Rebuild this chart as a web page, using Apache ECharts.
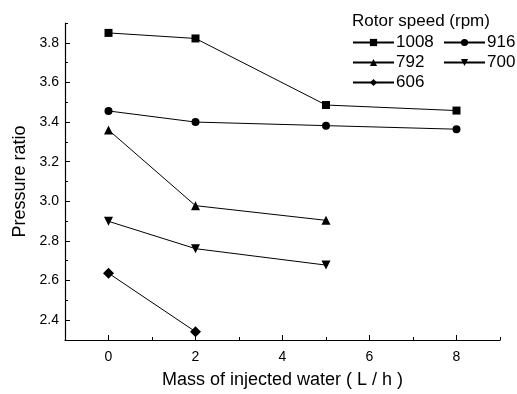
<!DOCTYPE html>
<html>
<head>
<meta charset="utf-8">
<script src="https://cdn.jsdelivr.net/npm/echarts@6/dist/echarts.min.js"></script>
<style>
  html, body { margin: 0; padding: 0; background: #fff; }
  #chart { width: 517px; height: 394px; }
</style>
</head>
<body>
<div id="chart"></div>
<script>
// injected water (L/h)
const xValues = [0, 2, 5, 8];
const rpm1008 = [3.85, 3.822, 3.486, 3.458];
const rpm916 = [3.456, 3.40, 3.382, 3.364];
const rpm792 = [3.36, 2.978, 2.904];
const rpm700 = [2.899, 2.761, 2.678];
const rpm606 = [2.637, 2.342];

const xMajorTicks = [0, 2, 4, 6, 8];
const xMinorTicks = [1, 3, 5, 7, 9];
const yMajorTicks = [2.4, 2.6, 2.8, 3.0, 3.2, 3.4, 3.6, 3.8];
const yMinorTicks = [2.5, 2.7, 2.9, 3.1, 3.3, 3.5, 3.7, 3.9];

const FONT = 'Liberation Sans, Arial, sans-serif';

function pairs(ys) {
  return ys.map((y, i) => [xValues[i], y]);
}

const seriesDefs = [
  { name: '1008', data: rpm1008, symbol: 'rect', size: 8, rotate: 0 },
  { name: '916', data: rpm916, symbol: 'circle', size: 8, rotate: 0 },
  { name: '792', data: rpm792, symbol: 'triangle', size: 9, rotate: 0 },
  { name: '700', data: rpm700, symbol: 'triangle', size: 9, rotate: 180 },
  { name: '606', data: rpm606, symbol: 'diamond', size: 11, rotate: 0 },
];

const legendPos = [
  { left: 352, top: 34 },
  { left: 443, top: 34 },
  { left: 352, top: 54 },
  { left: 443, top: 54 },
  { left: 352, top: 74 },
];

const chart = echarts.init(document.getElementById('chart'), null, { renderer: 'canvas' });

chart.setOption({
  animation: false,
  backgroundColor: '#fff',
  textStyle: { fontFamily: FONT },
  title: {
    text: 'Rotor speed (rpm)',
    left: 352,
    top: 13,
    padding: 0,
    textStyle: { fontFamily: FONT, fontSize: 17, fontWeight: 'normal', color: '#000' },
  },
  legend: seriesDefs.map((s, i) => ({
    data: [s.name],
    left: legendPos[i].left,
    top: legendPos[i].top,
    padding: 0,
    itemWidth: 41,
    itemHeight: 9,
    itemGap: 2,
    textStyle: { fontFamily: FONT, fontSize: 17, color: '#000', padding: [0, 0, 0, -3] },
  })),
  grid: { left: 65, right: 17, top: 23, bottom: 48, containLabel: false },
  xAxis: [
    {
      type: 'value',
      min: -1,
      max: 9,
      name: 'Mass of injected water ( L / h )',
      nameLocation: 'middle',
      nameGap: 31,
      nameTextStyle: { fontFamily: FONT, fontSize: 18, color: '#000' },
      axisLine: { onZero: false, lineStyle: { color: '#000', width: 1.2 } },
      splitLine: { show: false },
      axisTick: { inside: true, length: 5, customValues: xMajorTicks, lineStyle: { color: '#000' } },
      axisLabel: { customValues: xMajorTicks, color: '#000', fontSize: 14, fontFamily: FONT, margin: 10 },
    },
    {
      type: 'value',
      min: -1,
      max: 9,
      position: 'bottom',
      axisLine: { show: false, onZero: false },
      splitLine: { show: false },
      axisTick: { inside: true, length: 3, customValues: xMinorTicks, lineStyle: { color: '#000' } },
      axisLabel: { show: false },
    },
  ],
  yAxis: [
    {
      type: 'value',
      min: 2.3,
      max: 3.9,
      interval: 0.1,
      name: 'Pressure ratio',
      nameLocation: 'middle',
      nameGap: 36,
      nameTextStyle: { fontFamily: FONT, fontSize: 18, color: '#000' },
      axisLine: { onZero: false, lineStyle: { color: '#000', width: 1.2 } },
      splitLine: { show: false },
      axisTick: { inside: true, length: 5, customValues: yMajorTicks, lineStyle: { color: '#000' } },
      axisLabel: {
        color: '#000',
        fontSize: 14,
        fontFamily: FONT,
        margin: 6,
        formatter: (v) => {
          const t = Math.round(v * 10);
          return t % 2 === 0 ? (t / 10).toFixed(1) : '';
        },
      },
    },
    {
      type: 'value',
      min: 2.3,
      max: 3.9,
      position: 'left',
      axisLine: { show: false, onZero: false },
      splitLine: { show: false },
      axisTick: { inside: true, length: 3, customValues: yMinorTicks, lineStyle: { color: '#000' } },
      axisLabel: { show: false },
    },
  ],
  series: seriesDefs.map((s) => ({
    name: s.name,
    type: 'line',
    data: pairs(s.data),
    symbol: s.symbol,
    symbolSize: s.size,
    symbolRotate: s.rotate,
    lineStyle: { color: '#000', width: 1 },
    itemStyle: { color: '#000' },
  })),
});
</script>
</body>
</html>
